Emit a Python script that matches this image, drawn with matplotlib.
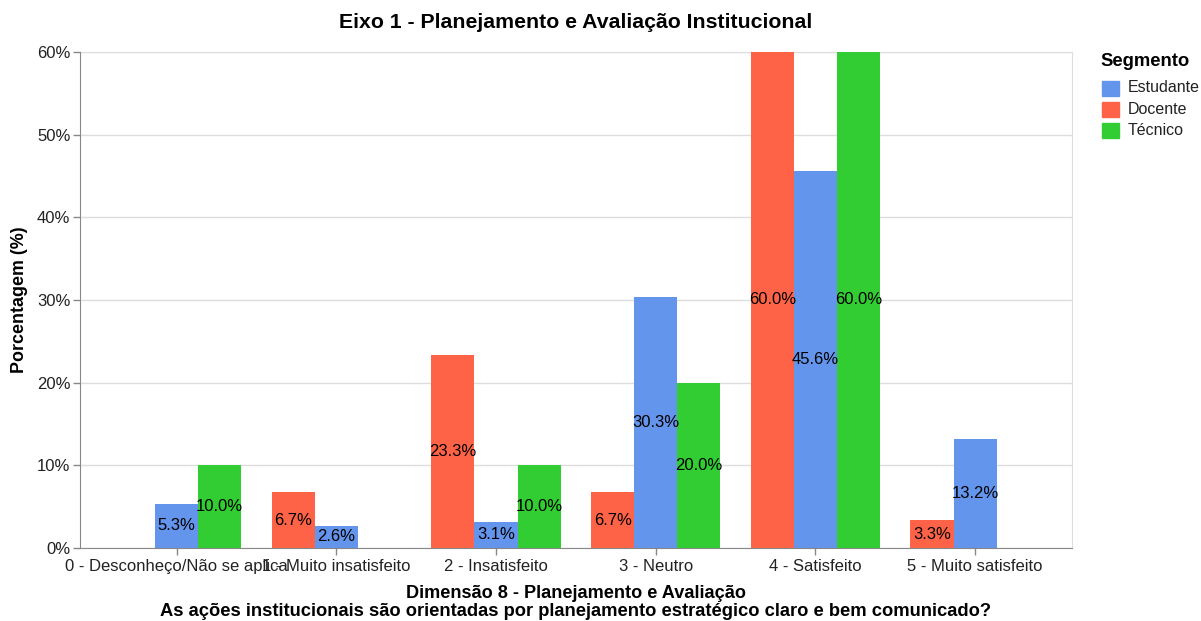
import numpy as np
import matplotlib.pyplot as plt

plt.rcParams.update({"font.family": ['Liberation Sans', 'DejaVu Sans']})

# Data
categorias = ['0 - Desconheço/Não se aplica', '1 - Muito insatisfeito', '2 - Insatisfeito',
              '3 - Neutro', '4 - Satisfeito', '5 - Muito satisfeito']
docente = [np.nan, 6.7, 23.3, 6.7, 60.0, 3.3]
estudante = [5.3, 2.6, 3.1, 30.3, 45.6, 13.2]
tecnico = [10.0, np.nan, 10.0, 20.0, 60.0, np.nan]

segmentos = ['Docente', 'Estudante', 'Técnico']
series = [docente, estudante, tecnico]
cores = {'Estudante': '#6495ED', 'Docente': '#FF6347', 'Técnico': '#32CD32'}
legenda_ordem = ['Estudante', 'Docente', 'Técnico']

W, H = 1201, 621
fig = plt.figure(figsize=(W / 100, H / 100), dpi=100)

# Plot area in pixel coordinates
x0, x1, ytop, ybot = 80, 1071.7, 52.2, 547.7
ax = fig.add_axes([x0 / W, 1 - ybot / H, (x1 - x0) / W, (ybot - ytop) / H])

n = len(categorias)
outer = 0.105
bar_w = 0.27
x = np.arange(n)

for k, (nome, vals) in enumerate(zip(segmentos, series)):
    offs = (k - 1) * bar_w
    vals = np.array(vals, dtype=float)
    ok = ~np.isnan(vals)
    ax.bar(x[ok] + offs, vals[ok], width=bar_w, color=cores[nome], zorder=3, linewidth=0)
    for xi, v in zip(x[ok] + offs, vals[ok]):
        ax.text(xi, v / 2, f'{v:.1f}%', ha='center', va='center', fontsize=12,
                color='black', zorder=4)

ax.set_xlim(-0.5 - outer, n - 0.5 + outer)
ax.set_ylim(0, 60)
ax.set_yticks(np.arange(0, 61, 10))
ax.set_yticklabels([f'{t}%' for t in range(0, 61, 10)])
ax.set_xticks(x)
ax.set_xticklabels(categorias)
ax.tick_params(axis='both', labelsize=12, colors='#888888', labelcolor='#222222', length=5, width=1)
ax.tick_params(axis='x', pad=3)
ax.tick_params(axis='y', pad=2)

ax.grid(axis='y', color='#dddddd', linewidth=1, zorder=0)
ax.set_axisbelow(True)
for s in ['top', 'right']:
    ax.spines[s].set_color('#dddddd')
for s in ['left', 'bottom']:
    ax.spines[s].set_color('#888888')
    ax.spines[s].set_zorder(5)

# Titles
cx = (x0 + x1) / 2
fig.text(cx / W, 1 - 22 / H, 'Eixo 1 - Planejamento e Avaliação Institucional',
         ha='center', va='center', fontsize=15.3, fontweight='bold')
fig.text(cx / W, 1 - 593 / H, 'Dimensão 8 - Planejamento e Avaliação',
         ha='center', va='center', fontsize=13.1, fontweight='bold')
fig.text(cx / W, 1 - 612 / H,
         'As ações institucionais são orientadas por planejamento estratégico claro e bem comunicado?',
         ha='center', va='center', fontsize=13.2, fontweight='bold')
fig.text(20 / W, 1 - 300 / H, 'Porcentagem (%)', ha='center', va='center', rotation=90,
         fontsize=12.9, fontweight='bold')

# Legend drawn by hand
fig.text(1100 / W, 1 - 61 / H, 'Segmento', ha='left', va='center', fontsize=13.3, fontweight='bold')
for i, nome in enumerate(legenda_ordem):
    yc = 88 + i * 21.3
    fig.patches.append(plt.Rectangle((1102 / W, 1 - (yc + 7.5) / H), 17 / W, 15 / H,
                                     transform=fig.transFigure, color=cores[nome], figure=fig))
    fig.text(1128 / W, 1 - yc / H, nome, ha='left', va='center', fontsize=11.5, color='#222222')

fig.savefig('out.png', dpi=100)
